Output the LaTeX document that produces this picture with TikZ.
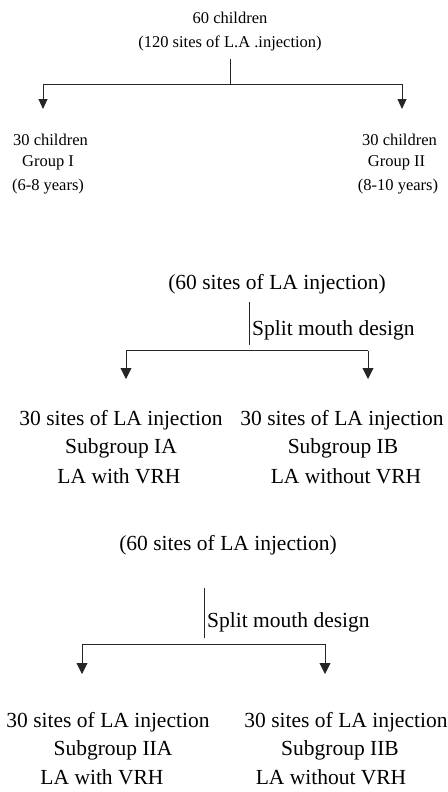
\documentclass[tikz,border=0pt]{standalone}
\usepackage{fontspec}
\setmainfont{Liberation Serif}
\usetikzlibrary{arrows.meta}
\begin{document}
\begin{tikzpicture}[x=1pt,y=-1pt,
  small/.style={inner sep=0pt,font=\fontsize{16.5}{19}\selectfont},
  big/.style={inner sep=0pt,font=\fontsize{21.5}{25}\selectfont},
  conn/.style={line width=0.9pt,draw=black!85},
  arr/.style={conn,-{Triangle[width=9pt,length=10pt]}},
  bigarr/.style={conn,-{Triangle[width=11pt,length=11pt]}}]
\useasboundingbox (0,0) rectangle (447,792);
% section 1
\node[small] (t1) at (230,18) {60 children};
\node[small] (t2) at (230,43) {(120 sites of L.A .injection)};
\coordinate (s1) at (230,59);
\coordinate (j1) at (230,84);
\coordinate (l1) at (43,84);
\coordinate (r1) at (402,84);
\coordinate (la) at (43,109);
\coordinate (ra) at (402,109);
\node[small] (g1a) at (50.5,140) {30 children};
\node[small] (g1b) at (48,163) {Group I};
\node[small] (g1c) at (48,187) {(6-8 years)};
\node[small] (g2a) at (399.5,140) {30 children};
\node[small] (g2b) at (396.5,163) {Group II};
\node[small] (g2c) at (398,187) {(8-10 years)};
\draw[conn] (s1) -- (j1);
\draw[arr] (j1) -- (l1) -- (la);
\draw[arr] (j1) -- (r1) -- (ra);
% section 2
\node[big] (p1) at (277,284) {(60 sites of LA injection)};
\coordinate (s2) at (249,302);
\coordinate (e2) at (249,345);
\node[big,anchor=west] (sm1) at (252,330) {Split mouth design};
\coordinate (l2) at (126,350.5);
\coordinate (r2) at (368,350.5);
\coordinate (la2) at (126,379);
\coordinate (ra2) at (368,379);
\draw[conn] (s2) -- (e2);
\draw[bigarr] (l2) -- (la2);
\draw[bigarr] (r2) -- (ra2);
\draw[conn] (l2) -- (r2);
\node[big] (ia1) at (121,420) {30 sites of LA injection};
\node[big] (ia2) at (121,448) {Subgroup IA};
\node[big] (ia3) at (119,476) {LA with VRH};
\node[big] (ib1) at (342,420) {30 sites of LA injection};
\node[big] (ib2) at (343,448) {Subgroup IB};
\node[big] (ib3) at (346,476) {LA without VRH};
% section 3
\node[big] (p2) at (228,545) {(60 sites of LA injection)};
\coordinate (s3) at (204,588);
\coordinate (e3) at (204,638);
\node[big,anchor=west] (sm2) at (207,622) {Split mouth design};
\coordinate (l3) at (82,644);
\coordinate (r3) at (325,644);
\coordinate (la3) at (82,674);
\coordinate (ra3) at (325,674);
\draw[conn] (s3) -- (e3);
\draw[conn] (l3) -- (r3);
\draw[bigarr] (l3) -- (la3);
\draw[bigarr] (r3) -- (ra3);
\node[big] (iia1) at (108,722) {30 sites of LA injection};
\node[big] (iia2) at (113,750) {Subgroup IIA};
\node[big] (iia3) at (102,777) {LA with VRH};
\node[big] (iib1) at (346,722) {30 sites of LA injection};
\node[big] (iib2) at (340,750) {Subgroup IIB};
\node[big] (iib3) at (331,777) {LA without VRH};
\end{tikzpicture}
\end{document}
